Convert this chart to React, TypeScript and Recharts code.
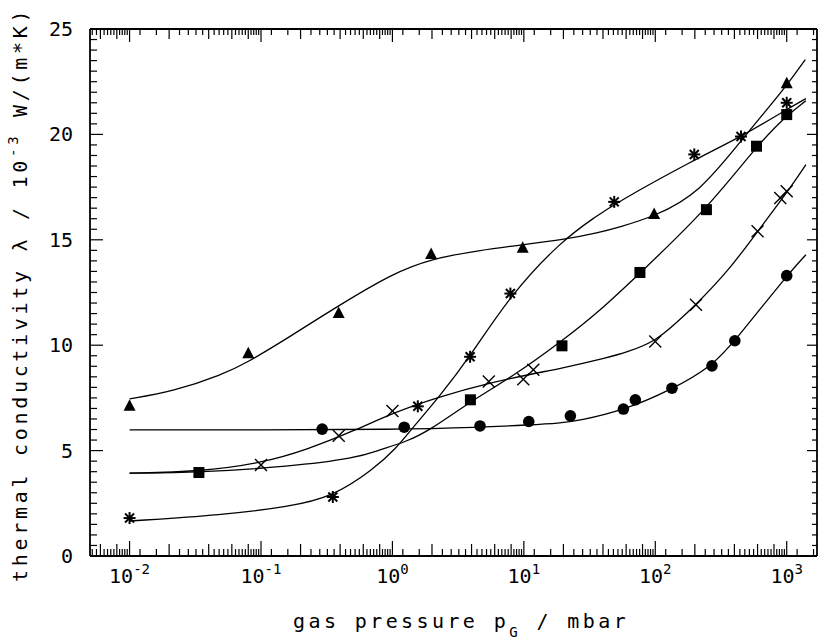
import React from 'react';
import { ComposedChart, Line, Scatter, XAxis, YAxis } from 'recharts';

const W = 825;
const H = 644;
const FONT = '"DejaVu Sans Mono", monospace';

// ---- measured points (gas pressure in mbar, lambda in 1e-3 W/(m*K)) ----
const triangleX = [0.01, 0.08, 0.39, 1.97, 9.8, 98, 1000];
const triangleY = [7.1, 9.6, 11.5, 14.3, 14.6, 16.2, 22.4];

const starX = [0.01, 0.352, 1.56, 3.9, 7.9, 48.7, 198, 449, 1000];
const starY = [1.8, 2.8, 7.1, 9.45, 12.45, 16.8, 19.05, 19.9, 21.5];

const squareX = [0.0337, 3.92, 19.5, 76.4, 245, 589, 1000];
const squareY = [3.96, 7.41, 9.97, 13.45, 16.43, 19.44, 20.94];

const crossX = [0.1, 0.39, 1.0, 5.41, 9.9, 11.8, 100, 204, 600, 893, 1000];
const crossY = [4.32, 5.7, 6.88, 8.28, 8.39, 8.83, 10.18, 11.92, 15.4, 16.98, 17.3];

const circleX = [0.292, 1.23, 4.64, 10.9, 22.6, 57.2, 70.5, 134, 270, 403, 1000];
const circleY = [6.02, 6.11, 6.17, 6.38, 6.65, 6.97, 7.41, 7.96, 9.02, 10.21, 13.3];

// ---- fitted curves ----
const triCurveX = [0.01, 0.0214, 0.051, 0.0795, 0.138, 0.196, 0.395, 1.0, 1.97, 4.6, 9.8, 19.7, 37.5, 53, 98, 216, 461, 1000, 1385];
const triCurveY = [7.45, 7.8, 8.6, 9.2, 10.1, 10.7, 11.9, 13.4, 14.1, 14.5, 14.77, 15.0, 15.35, 15.6, 16.1, 17.2, 19.8, 22.3, 23.55];

const starCurveX = [0.01, 0.051, 0.165, 0.352, 0.708, 1.07, 1.39, 2.28, 3.9, 7.9, 19.7, 35.4, 48.7, 198, 449, 1000, 1400];
const starCurveY = [1.66, 1.95, 2.34, 2.82, 4.08, 5.11, 6.0, 7.56, 9.46, 12.39, 15.0, 16.1, 16.7, 18.8, 19.88, 21.18, 21.7];

const squareCurveX = [0.01, 0.0337, 0.165, 0.53, 0.796, 1.27, 1.91, 3.92, 8.22, 19.5, 37.5, 76.4, 245, 589, 1000, 1400];
const squareCurveY = [3.93, 3.96, 4.24, 4.64, 5.03, 5.42, 5.95, 7.33, 8.51, 10.2, 11.6, 13.42, 16.43, 19.44, 20.9, 21.6];

const crossCurveX = [0.01, 0.0337, 0.1, 0.221, 0.53, 1.0, 2.28, 5.41, 12.4, 18.6, 44.7, 59.8, 100, 144, 204, 366, 600, 1000, 1400];
const crossCurveY = [3.93, 4.0, 4.4, 5.03, 5.98, 6.78, 7.56, 8.2, 8.68, 8.88, 9.43, 9.65, 10.18, 11.05, 11.92, 13.58, 15.4, 17.22, 18.57];

const circleCurveX = [0.01, 0.1, 1.0, 4.64, 10.9, 18.6, 26.4, 57, 134, 270, 403, 1000, 1400];
const circleCurveY = [5.98, 5.98, 6.0, 6.1, 6.22, 6.3, 6.42, 6.9, 7.9, 9.0, 10.2, 13.3, 14.29];

// ---- axis ticks ----
const xDomain = [0.005, 1700];
const xDecades = [0.001, 0.01, 0.1, 1, 10, 100, 1000];
const xMultipliers = [1, 1.2, 1.6, 2, 2.4, 2.8, 3.2, 3.6, 4, 4.4, 4.8, 5.2, 5.6, 6, 6.4, 6.8, 7.2, 7.6, 8, 8.4, 8.8, 9.2, 9.6];
const xLongMultipliers = [1, 2, 4, 6, 8];
const xLabelDecades = [0.01, 0.1, 1, 10, 100, 1000];
const yTicks = Array.from({ length: 51 }, (_, i) => i * 0.5);
const yLabels = [0, 5, 10, 15, 20, 25];

const xTickInfo: { v: number; m: number }[] = [];
xDecades.forEach((d) =>
  xMultipliers.forEach((m) => {
    const v = d * m;
    if (v >= xDomain[0] && v <= xDomain[1]) xTickInfo.push({ v, m });
  })
);
const xTicks = xTickInfo.map((t) => t.v);
const mantissaOf = (v: number) => {
  const t = xTickInfo.find((e) => Math.abs(e.v - v) / v < 1e-6);
  return t ? t.m : 0;
};

const toPts = (xs: number[], ys: number[]) => xs.map((x, i) => ({ x, y: ys[i] }));

const triangles = toPts(triangleX, triangleY);
const stars = toPts(starX, starY);
const squares = toPts(squareX, squareY);
const crosses = toPts(crossX, crossY);
const circles = toPts(circleX, circleY);
const triCurve = toPts(triCurveX, triCurveY);
const starCurve = toPts(starCurveX, starCurveY);
const squareCurve = toPts(squareCurveX, squareCurveY);
const crossCurve = toPts(crossCurveX, crossCurveY);
const circleCurve = toPts(circleCurveX, circleCurveY);

// ---- marker shapes ----
const TriangleShape = (p: any) => (
  <polygon points={`${p.cx},${p.cy - 7} ${p.cx - 6},${p.cy + 4.5} ${p.cx + 6},${p.cy + 4.5}`} fill="#000" />
);
const SquareShape = (p: any) => <rect x={p.cx - 5.5} y={p.cy - 5.5} width={11} height={11} fill="#000" />;
const CircleShape = (p: any) => <circle cx={p.cx} cy={p.cy} r={5.8} fill="#000" />;
const CrossShape = (p: any) => (
  <g stroke="#000" strokeWidth={1.4}>
    <line x1={p.cx - 6} y1={p.cy - 6} x2={p.cx + 6} y2={p.cy + 6} />
    <line x1={p.cx - 6} y1={p.cy + 6} x2={p.cx + 6} y2={p.cy - 6} />
  </g>
);
const StarShape = (p: any) => (
  <g stroke="#000" strokeWidth={2}>
    <line x1={p.cx - 6} y1={p.cy} x2={p.cx + 6} y2={p.cy} />
    <line x1={p.cx} y1={p.cy - 6} x2={p.cx} y2={p.cy + 6} />
    <line x1={p.cx - 4.5} y1={p.cy - 4.5} x2={p.cx + 4.5} y2={p.cy + 4.5} />
    <line x1={p.cx - 4.5} y1={p.cy + 4.5} x2={p.cx + 4.5} y2={p.cy - 4.5} />
  </g>
);

// ---- custom ticks ----
const xTickLen = (v: number, long: number, short: number) => {
  const m = mantissaOf(v);
  if (m === 1) return long;
  if (xLongMultipliers.includes(m)) return long - 3;
  return short;
};

const BottomTick = (props: any) => {
  const { x, y, payload } = props;
  const v = payload.value;
  const len = xTickLen(v, 15, 7);
  const isLabel = xLabelDecades.some((d) => Math.abs(d - v) / d < 1e-6);
  const exp = Math.round(Math.log10(v));
  return (
    <g>
      <line x1={x} y1={y} x2={x} y2={y - len} stroke="#000" strokeWidth={1.2} />
      {isLabel && (
        <text x={x} y={y + 27} textAnchor="middle" fontFamily={FONT} fontSize={20} fill="#000">
          <tspan>10</tspan>
          <tspan dy={-9} fontSize={14}>{exp < 0 ? `-${-exp}` : `${exp}`}</tspan>
        </text>
      )}
    </g>
  );
};

const TopTick = (props: any) => {
  const { x, y, payload } = props;
  const len = xTickLen(payload.value, 13, 6);
  return <line x1={x} y1={y} x2={x} y2={y + len} stroke="#000" strokeWidth={1.2} />;
};

const LeftTick = (props: any) => {
  const { x, y, payload } = props;
  const v = payload.value;
  const major = yLabels.includes(v);
  return (
    <g>
      <line x1={x} y1={y} x2={x + (major ? 13 : 7)} y2={y} stroke="#000" strokeWidth={1.2} />
      {major && (
        <text x={x - 17} y={y + 7} textAnchor="end" fontFamily={FONT} fontSize={20} fill="#000">
          {v}
        </text>
      )}
    </g>
  );
};

const RightTick = (props: any) => {
  const { x, y, payload } = props;
  const major = yLabels.includes(payload.value);
  return <line x1={x} y1={y} x2={x - (major ? 10 : 5)} y2={y} stroke="#000" strokeWidth={1.2} />;
};

const axisLine = { stroke: '#000', strokeWidth: 1.8 };

export default function App() {
  const curves = [triCurve, starCurve, squareCurve, crossCurve, circleCurve];
  return (
    <div style={{ position: 'absolute', left: 0, top: 0, width: W, height: H, background: '#fff' }}>
      <ComposedChart width={W} height={H} margin={{ top: 0, right: 0, bottom: 0, left: 0 }}>
        <XAxis
          xAxisId="b"
          orientation="bottom"
          dataKey="x"
          type="number"
          scale="log"
          domain={xDomain}
          allowDataOverflow
          ticks={xTicks}
          interval={0}
          tickSize={0}
          tickMargin={0}
          height={88}
          axisLine={axisLine}
          tickLine={false}
          tick={BottomTick}
        />
        <XAxis
          xAxisId="t"
          orientation="top"
          dataKey="x"
          type="number"
          scale="log"
          domain={xDomain}
          allowDataOverflow
          ticks={xTicks}
          interval={0}
          tickSize={0}
          tickMargin={0}
          height={29}
          axisLine={axisLine}
          tickLine={false}
          tick={TopTick}
        />
        <YAxis
          yAxisId="l"
          orientation="left"
          type="number"
          domain={[0, 25]}
          allowDataOverflow
          ticks={yTicks}
          interval={0}
          tickSize={0}
          tickMargin={0}
          width={90}
          axisLine={axisLine}
          tickLine={false}
          tick={LeftTick}
        />
        <YAxis
          yAxisId="r"
          orientation="right"
          type="number"
          domain={[0, 25]}
          allowDataOverflow
          ticks={yTicks}
          interval={0}
          tickSize={0}
          tickMargin={0}
          width={8}
          axisLine={axisLine}
          tickLine={false}
          tick={RightTick}
        />
        {curves.map((c, i) => (
          <Line
            key={i}
            xAxisId="b"
            yAxisId="l"
            data={c}
            dataKey="y"
            type="basis"
            dot={false}
            activeDot={false}
            stroke="#000"
            strokeWidth={1.3}
            isAnimationActive={false}
          />
        ))}
        <Scatter xAxisId="b" yAxisId="l" data={triangles} dataKey="y" shape={TriangleShape} isAnimationActive={false} />
        <Scatter xAxisId="b" yAxisId="l" data={stars} dataKey="y" shape={StarShape} isAnimationActive={false} />
        <Scatter xAxisId="b" yAxisId="l" data={squares} dataKey="y" shape={SquareShape} isAnimationActive={false} />
        <Scatter xAxisId="b" yAxisId="l" data={crosses} dataKey="y" shape={CrossShape} isAnimationActive={false} />
        <Scatter xAxisId="b" yAxisId="l" data={circles} dataKey="y" shape={CircleShape} isAnimationActive={false} />
        <text x={293} y={628} fontFamily={FONT} fontSize={20} letterSpacing={3.4} fill="#000">
          <tspan>gas pressure p</tspan>
          <tspan dy={9} fontSize={14}>G</tspan>
          <tspan dy={-9}> / mbar</tspan>
        </text>
        <text
          transform="translate(27, 582) rotate(-90)"
          fontFamily={FONT}
          fontSize={20}
          letterSpacing={3.7}
          fill="#000"
        >
          <tspan>thermal conductivity λ / 10</tspan>
          <tspan dy={-9} fontSize={14}>-3</tspan>
          <tspan dy={9}> W/(m*K)</tspan>
        </text>
      </ComposedChart>
    </div>
  );
}
